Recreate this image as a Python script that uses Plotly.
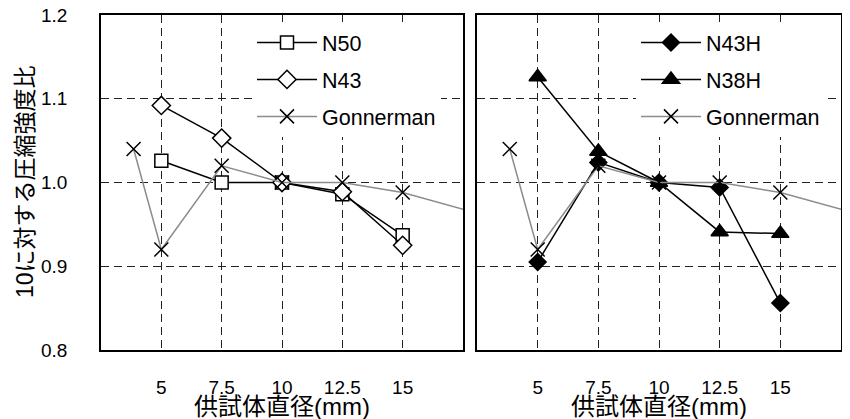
import plotly.graph_objects as go

# ---- data ----
x_sizes = [5, 7.5, 10, 12.5, 15]
n50 = [1.026, 1.0, 1.0, 0.986, 0.937]
n43 = [1.092, 1.053, 1.0, 0.989, 0.925]
n43h = [0.905, 1.024, 1.0, 0.994, 0.856]
n38h = [1.126, 1.037, 1.0, 0.941, 0.939]
gon_x = [3.85, 5, 7.5, 10, 12.5, 15, 20]
gon_y = [1.040, 0.920, 1.020, 1.0, 1.0, 0.988, 0.948]

x_tickvals = [5, 7.5, 10, 12.5, 15]
x_ticktext = ["5", "7.5", "10", "12.5", "15"]
y_tickvals = [0.8, 0.9, 1.0, 1.1, 1.2]
y_ticktext = ["0.8", "0.9", "1.0", "1.1", "1.2"]

y_title = "10に対する圧縮強度比"
x_title = "供試体直径(mm)"

FONT = "Arial, 'Liberation Sans', 'Noto Sans CJK JP', sans-serif"

# the page body has an 8px default margin; size the figure to fill the rest
OFF = 8
W, H = 850 - OFF, 419 - OFF


def px(x):
    return (x - OFF) / W


def py(y):
    return 1 - (y - OFF) / H


fig = go.Figure()


def add(x, y, name, symbol, size, xa, ya, legend, lcolor="black", fill="white"):
    fig.add_trace(go.Scatter(
        x=x, y=y, name=name, mode="lines+markers",
        line=dict(color=lcolor, width=1.5),
        marker=dict(symbol=symbol, size=size, color=fill,
                    line=dict(color="black", width=1.5)),
        xaxis=xa, yaxis=ya, legend=legend, legendgroup=legend + name,
    ))


add(x_sizes, n50, "N50", "square", 13, "x", "y", "legend")
add(x_sizes, n43, "N43", "diamond", 14, "x", "y", "legend")
add(gon_x, gon_y, "Gonnerman", "x-thin-open", 14, "x", "y", "legend", lcolor="#8c8c8c", fill="black")

add(x_sizes, n43h, "N43H", "diamond", 13, "x2", "y2", "legend2", fill="black")
add(x_sizes, n38h, "N38H", "triangle-up", 15, "x2", "y2", "legend2", fill="black")
add(gon_x, gon_y, "Gonnerman", "x-thin-open", 14, "x2", "y2", "legend2", lcolor="#8c8c8c", fill="black")

ydom = [py(350), py(15)]
xcommon = dict(range=[2.5, 17.5], tickvals=x_tickvals, ticktext=x_ticktext,
               showgrid=True, gridcolor="#222222", gridwidth=1, griddash="8px,5px",
               showline=True, linecolor="black", linewidth=1.5, mirror=True,
               zeroline=False, ticks="", ticklabelstandoff=19, automargin=False,
               ticklabeloverflow="allow",
               tickfont=dict(size=19, color="black", family=FONT))
ycommon = dict(range=[0.8, 1.2], tickvals=y_tickvals, ticktext=y_ticktext,
               showgrid=True, gridcolor="#222222", gridwidth=1, griddash="8px,5px",
               showline=True, linecolor="black", linewidth=1.5, mirror=True,
               zeroline=False, ticks="", ticklabelstandoff=28, automargin=False,
               ticklabeloverflow="allow",
               tickfont=dict(size=19, color="black", family=FONT))

legend_common = dict(xanchor="left", yanchor="top", bgcolor="white",
                     borderwidth=0, itemwidth=60, tracegroupgap=6,
                     font=dict(size=21.5, color="black", family=FONT))

fig.update_layout(
    width=W, height=H, autosize=False,
    margin=dict(l=0, r=0, t=0, b=0),
    paper_bgcolor="white", plot_bgcolor="white",
    font=dict(family=FONT, color="black"),
    xaxis=dict(domain=[px(101), px(463)], anchor="y", **xcommon),
    yaxis=dict(domain=ydom, anchor="x", **ycommon),
    xaxis2=dict(domain=[px(477), px(841)], anchor="y2", **xcommon),
    yaxis2=dict(domain=ydom, anchor="x2", showticklabels=False, **ycommon),
    legend=dict(x=px(252), y=py(22), **legend_common),
    legend2=dict(x=px(636), y=py(22), **legend_common),
    showlegend=True,
    annotations=[
        dict(text=y_title, x=px(25), y=py(182), xref="paper", yref="paper",
             textangle=-90, showarrow=False, xanchor="center", yanchor="middle",
             font=dict(size=23, color="black", family=FONT)),
        dict(text=x_title, x=px(282), y=py(406), xref="paper", yref="paper",
             showarrow=False, xanchor="center", yanchor="middle",
             font=dict(size=24, color="black", family=FONT)),
        dict(text=x_title, x=px(659), y=py(406), xref="paper", yref="paper",
             showarrow=False, xanchor="center", yanchor="middle",
             font=dict(size=24, color="black", family=FONT)),
    ],
)

fig.write_html("out.html")
